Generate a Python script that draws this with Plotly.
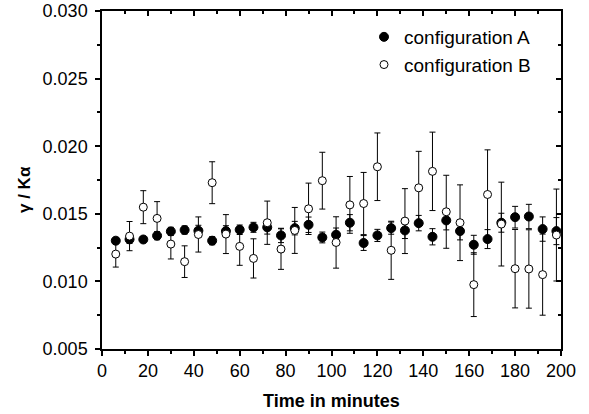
import plotly.graph_objects as go

time_min = [6, 12, 18, 24, 30, 36, 42, 48, 54, 60, 66, 72, 78, 84, 90, 96,
            102, 108, 114, 120, 126, 132, 138, 144, 150, 156, 162, 168, 174,
            180, 186, 192, 198]

config_a = [0.01301, 0.01311, 0.01310, 0.01338, 0.01370, 0.01380, 0.01375, 0.01301,
            0.01372, 0.01382, 0.01400, 0.01400, 0.01340, 0.01394, 0.01419, 0.01325,
            0.01345, 0.01434, 0.01284, 0.01340, 0.01394, 0.01377, 0.01431, 0.01330,
            0.01451, 0.01372, 0.01271, 0.01313, 0.01434, 0.01475, 0.01480, 0.01387,
            0.01372]
config_a_err = [0.0002, 0.0003, 0.0002, 0.0003, 0.0003, 0.0003, 0.0004, 0.0003,
                0.0004, 0.00035, 0.00037, 0.0005, 0.00053, 0.0005, 0.00057, 0.0004,
                0.0005, 0.0006, 0.00055, 0.00045, 0.00045, 0.0006, 0.00057, 0.0006,
                0.0007, 0.00065, 0.0007, 0.0007, 0.0007, 0.0008, 0.0009, 0.0009,
                0.0010]

config_b = [0.01202, 0.01335, 0.01549, 0.01466, 0.01276, 0.01146, 0.01347, 0.01730,
            0.01350, 0.01259, 0.01170, 0.01434, 0.01239, 0.01377, 0.01537, 0.01745,
            0.01288, 0.01566, 0.01576, 0.01848, 0.01230, 0.01446, 0.01692, 0.01814,
            0.01515, 0.01434, 0.00976, 0.01643, 0.01424, 0.01094, 0.01092, 0.01050,
            0.01343]
config_b_err = [0.00096, 0.00108, 0.00122, 0.00124, 0.00110, 0.00117, 0.00130, 0.00155,
                0.00144, 0.00140, 0.00145, 0.00160, 0.00150, 0.00170, 0.00190, 0.00210,
                0.00190, 0.00210, 0.00230, 0.00250, 0.00215, 0.00240, 0.00270, 0.00290,
                0.00270, 0.00280, 0.00236, 0.00330, 0.00310, 0.00290, 0.00290, 0.00300,
                0.00340]

x_ticks = [0, 20, 40, 60, 80, 100, 120, 140, 160, 180, 200]
y_ticks = [0.005, 0.010, 0.015, 0.020, 0.025, 0.030]

FONT = "Liberation Sans, Arial, sans-serif"
W, H = 589, 414
L, R, T, B = 102, 28, 11, 65
pw, ph = W - L - R, H - T - B

fig = go.Figure()
fig.add_trace(go.Scatter(
    x=time_min, y=config_a, mode="markers", name="configuration A",
    marker=dict(symbol="circle", size=9, color="black", line=dict(color="black", width=1)),
    error_y=dict(type="data", array=config_a_err, color="black", thickness=1, width=3),
))
fig.add_trace(go.Scatter(
    x=time_min, y=config_b, mode="markers", name="configuration B",
    marker=dict(symbol="circle", size=8, color="white", line=dict(color="black", width=1)),
    error_y=dict(type="data", array=config_b_err, color="black", thickness=1, width=3),
))
# invisible carrier so the mirrored (inside-tick) top/right axes get drawn
fig.add_trace(go.Scatter(
    x=time_min, y=config_a, mode="markers", xaxis="x2", yaxis="y2",
    marker=dict(size=1, opacity=0), showlegend=False, hoverinfo="skip",
))

axis_common = dict(showgrid=False, zeroline=False, showline=True, linecolor="black",
                   linewidth=1.5, tickcolor="black", tickwidth=1.5, ticklen=5,
                   automargin=False)

fig.update_layout(
    width=W, height=H,
    margin=dict(l=L, r=R, t=T, b=B, autoexpand=False),
    paper_bgcolor="white", plot_bgcolor="white",
    font=dict(family=FONT, size=18, color="black"),
    showlegend=True,
    legend=dict(x=262 / pw, y=1 - 7 / ph, xanchor="left", yanchor="top",
                bgcolor="rgba(0,0,0,0)", font=dict(size=19, family=FONT),
                tracegroupgap=0),
    xaxis=dict(range=[0, 200], tickvals=x_ticks, ticks="outside", mirror=True,
               ticklabeloverflow="allow",
               minor=dict(ticks="outside", ticklen=3, dtick=10, tickcolor="black", tickwidth=1.5),
               **axis_common),
    yaxis=dict(range=[0.005, 0.030], tickvals=y_ticks, tickformat=".3f", ticks="outside",
               mirror=True, ticklabelstandoff=4, ticklabeloverflow="allow",
               minor=dict(ticks="outside", ticklen=3, dtick=0.0025, tickcolor="black", tickwidth=1.5),
               **axis_common),
    xaxis2=dict(range=[0, 200], tickvals=x_ticks, ticks="inside", overlaying="x", side="top",
                anchor="y2", showticklabels=False,
                minor=dict(ticks="inside", ticklen=3, dtick=10, tickcolor="black", tickwidth=1.5),
                **axis_common),
    yaxis2=dict(range=[0.005, 0.030], tickvals=y_ticks, ticks="inside", overlaying="y",
                side="right", anchor="x2", showticklabels=False,
                minor=dict(ticks="inside", ticklen=3, dtick=0.0025, tickcolor="black", tickwidth=1.5),
                **axis_common),
    annotations=[
        dict(text="<b>Time in minutes</b>", xref="paper", yref="paper",
             x=0.5, y=-52 / ph, xanchor="center", yanchor="middle",
             showarrow=False, font=dict(size=18, family=FONT)),
        dict(text="<b>γ / Kα</b>", xref="paper", yref="paper", textangle=-90,
             x=-77 / pw, y=(338 - 179) / ph, xanchor="center", yanchor="middle",
             showarrow=False, font=dict(size=17, family=FONT)),
    ],
)

# remove the default page margin so the figure sits at the window's top-left corner
fig.write_html("out.html",
               config={"displayModeBar": False},
               post_script="document.body.style.margin='0';document.body.style.overflow='hidden';")
